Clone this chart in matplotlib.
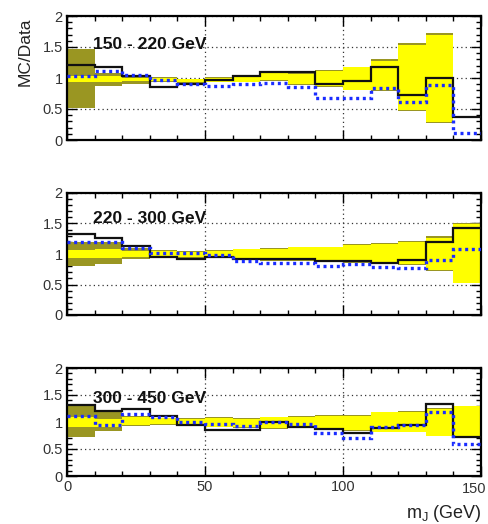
import numpy as np
import matplotlib
matplotlib.use('Agg')
import matplotlib.pyplot as plt
from matplotlib.ticker import MultipleLocator

plt.rcParams.update({
    'font.family': ['Liberation Sans', 'DejaVu Sans'],
    'mathtext.fontset': 'custom',
    'mathtext.rm': 'Liberation Sans',
    'mathtext.it': 'Liberation Sans',
})

# bin edges of m_J (GeV)
edges = np.arange(0, 160, 10)

labels = ['150 - 220 GeV', '220 - 300 GeV', '300 - 450 GeV']

# ── 150-220 GeV ────────────────────────────────────────────────────────────
black1 = [1.21, 1.17, 1.04, 0.86, 0.90, 0.97, 1.03, 1.10, 1.09, 0.91, 0.95, 1.18, 0.72, 1.00, 0.37]
blue1 = [1.04, 1.12, 1.05, 0.97, 0.91, 0.87, 0.91, 0.92, 0.85, 0.68, 0.68, 0.84, 0.62, 0.89, 0.12]
ylo1 = [0.93, 0.93, 0.95, 0.95, 0.93, 0.94, 0.94, 0.96, 0.90, 0.87, 0.81, 0.81, 0.48, 0.29, np.nan]
yhi1 = [1.03, 1.03, 1.00, 1.00, 0.98, 1.00, 1.04, 1.09, 1.07, 1.12, 1.17, 1.28, 1.53, 1.69, np.nan]
olo1 = [0.52, 0.87, 0.90, 0.93, 0.92, 0.93, 0.93, 0.95, 0.89, 0.86, 0.80, 0.79, 0.46, 0.27, np.nan]
ohi1 = [1.47, 1.08, 1.04, 1.01, 0.99, 1.01, 1.05, 1.10, 1.08, 1.13, 1.18, 1.30, 1.56, 1.72, np.nan]

# ── 220-300 GeV ────────────────────────────────────────────────────────────
black2 = [1.32, 1.26, 1.13, 0.95, 0.91, 0.95, 0.92, 0.91, 0.91, 0.885, 0.885, 0.86, 0.90, 1.19, 1.43]
blue2 = [1.19, 1.19, 1.10, 1.02, 1.02, 0.98, 0.885, 0.86, 0.86, 0.80, 0.83, 0.79, 0.77, 0.90, 1.08]
ylo2 = [0.93, 0.94, 0.95, 0.95, 0.95, 0.94, 0.91, 0.90, 0.90, 0.89, 0.87, 0.86, 0.83, 0.73, 0.53]
yhi2 = [1.07, 1.08, 1.05, 1.05, 1.04, 1.05, 1.08, 1.09, 1.11, 1.11, 1.15, 1.17, 1.20, 1.27, 1.49]
olo2 = [0.80, 0.83, 0.91, 0.94, 0.94, 0.93, 0.90, 0.89, 0.89, 0.88, 0.86, 0.85, 0.82, 0.72, 0.52]
ohi2 = [1.20, 1.19, 1.10, 1.06, 1.05, 1.06, 1.09, 1.10, 1.12, 1.12, 1.16, 1.18, 1.21, 1.29, 1.51]

# ── 300-450 GeV ────────────────────────────────────────────────────────────
black3 = [1.31, 1.20, 1.25, 1.12, 0.94, 0.86, 0.86, 1.00, 0.91, 0.87, 0.79, 0.88, 0.94, 1.33, 0.73]
blue3 = [1.12, 0.94, 1.15, 1.10, 1.00, 0.97, 0.93, 1.00, 0.97, 0.79, 0.70, 0.91, 0.94, 1.19, 0.59]
ylo3 = [0.91, 0.90, 0.94, 0.96, 0.93, 0.91, 0.90, 0.88, 0.89, 0.88, 0.85, 0.82, 0.82, 0.75, 0.73]
yhi3 = [1.09, 1.05, 1.09, 1.07, 1.06, 1.08, 1.06, 1.09, 1.10, 1.12, 1.12, 1.18, 1.19, 1.24, 1.29]
olo3 = [0.72, 0.84, 0.92, 0.95, 0.92, 0.90, 0.89, 0.87, 0.88, 0.87, 0.84, 0.81, 0.81, 0.74, 0.72]
ohi3 = [1.31, 1.21, 1.11, 1.08, 1.07, 1.09, 1.07, 1.10, 1.11, 1.13, 1.13, 1.19, 1.20, 1.25, 1.30]

panels = [
    (black1, blue1, ylo1, yhi1, olo1, ohi1),
    (black2, blue2, ylo2, yhi2, olo2, ohi2),
    (black3, blue3, ylo3, yhi3, olo3, ohi3),
]

# axes boxes in pixels: (top, bottom)
W, H = 488, 524
boxes = [(16, 140), (193, 315), (368, 476)]
label_y = [1.46, 1.51, 1.36]
LEFT, RIGHT = 67, 481

OLIVE = '#9a9622'
YELLOW = '#ffff00'

fig = plt.figure(figsize=(W / 100, H / 100), dpi=100)


def draw_band(ax, lo, hi, color):
    lo = np.asarray(lo, float)
    hi = np.asarray(hi, float)
    ok = ~np.isnan(lo)
    ax.bar(edges[:-1][ok], (hi - lo)[ok], bottom=lo[ok], width=10,
           align='edge', color=color, lw=0, zorder=2)


def xfmt(v, pos):
    # the last label sits on the canvas edge; it is drawn separately below
    return '' if v >= 150 else f'{v:g}'


for i, ((blk, blu, ylo, yhi, olo, ohi), (top, bot)) in enumerate(zip(panels, boxes)):
    ax = fig.add_axes([LEFT / W, 1 - bot / H, (RIGHT - LEFT) / W, (bot - top) / H])
    draw_band(ax, olo, ohi, OLIVE)
    draw_band(ax, ylo, yhi, YELLOW)
    ax.stairs(blk, edges, baseline=None, color='#111111', lw=1.6, zorder=3)
    ax.stairs(blu, edges, baseline=None, color='#1a2cff', lw=2.4,
              ls=(0, (0.9, 1.1)), zorder=4)

    ax.set_xlim(0, 150)
    ax.set_ylim(0, 2)
    ax.xaxis.set_major_locator(MultipleLocator(50))
    ax.xaxis.set_minor_locator(MultipleLocator(10))
    ax.xaxis.set_major_formatter(plt.FuncFormatter(xfmt))
    ax.yaxis.set_major_locator(MultipleLocator(0.5))
    ax.yaxis.set_minor_locator(MultipleLocator(0.1))
    ax.yaxis.set_major_formatter(plt.FuncFormatter(lambda v, p: f'{v:g}'))
    ax.tick_params(which='both', direction='in', top=True, right=True,
                   labelsize=10.5, labelcolor='#333333', pad=3, width=1)
    ax.tick_params(which='major', length=7)
    ax.tick_params(which='minor', length=3.5)
    if i < 2:
        ax.tick_params(labelbottom=False)
    ax.grid(True, which='major', ls=(0, (1, 2.5)), color='#333333', lw=0.9, zorder=1)
    ax.set_axisbelow(True)
    for sp in ax.spines.values():
        sp.set_linewidth(1.6)
    ax.text(9.4, label_y[i], labels[i], fontsize=12.5, fontweight='bold',
            ha='left', va='baseline', color='#111111', zorder=5)

# "150" label nudged left so it stays on the canvas
ax.annotate('150', xy=(150, 0), xycoords='data', xytext=(-5, -3 - 1.0),
            textcoords='offset points', ha='center', va='top',
            fontsize=10.5, color='#333333', annotation_clip=False)

fig.text(25 / W, 1 - 18 / H, 'MC/Data', rotation=90, ha='center', va='top',
         fontsize=12.5, color='#222222')
fig.text(482 / W, 1 - 518 / H, r'm$_\mathregular{J}$ (GeV)', ha='right',
         va='baseline', fontsize=13, color='#222222')

fig.savefig('out.png', dpi=100)
